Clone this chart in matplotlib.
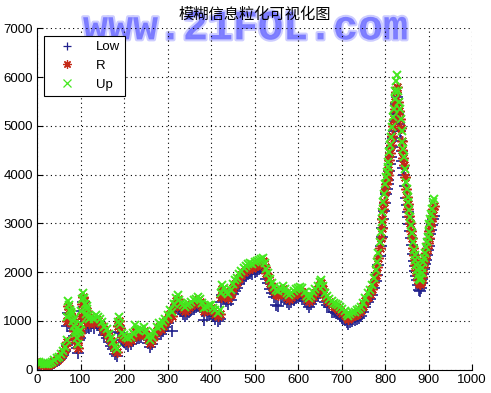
import numpy as np
import matplotlib
matplotlib.use('Agg')
import matplotlib.pyplot as plt
import matplotlib.patheffects as pe

plt.rcParams['font.family'] = ['Liberation Sans', 'DejaVu Sans']

# index of each granule
xs = [0, 5, 10, 15, 20, 25, 30, 35, 40, 45, 50, 55, 60, 65, 68, 70, 72, 74, 76, 78,
      80, 82, 84, 86, 88, 90, 92, 94, 96, 98, 100, 102, 104, 106, 108, 110, 112, 114, 116, 118,
      120, 125, 130, 135, 140, 145, 150, 155, 160, 165, 170, 175, 180, 184, 186, 188, 190, 195, 200, 205,
      210, 215, 220, 225, 230, 235, 240, 245, 250, 255, 260, 265, 270, 275, 280, 285, 290, 295, 300, 305,
      310, 315, 320, 323, 327, 330, 335, 340, 345, 350, 355, 360, 365, 370, 375, 380, 385, 390, 395, 400,
      405, 410, 415, 420, 423, 426, 430, 435, 440, 445, 450, 455, 460, 465, 470, 475, 480, 485, 490, 495,
      500, 505, 510, 515, 520, 524, 527, 530, 535, 540, 545, 550, 555, 560, 565, 570, 575, 580, 585, 590,
      595, 600, 605, 610, 615, 620, 625, 630, 635, 640, 645, 650, 654, 658, 662, 667, 672, 677, 682, 687,
      692, 697, 702, 707, 712, 716, 720, 725, 730, 735, 740, 745, 750, 755, 760, 765, 770, 775, 779, 782,
      785, 788, 790, 792, 794, 796, 798, 800, 802, 804, 806, 808, 810, 812, 814, 816, 818, 820, 822, 824,
      826, 828, 830, 832, 834, 836, 838, 840, 842, 844, 846, 848, 850, 852, 854, 856, 858, 860, 862, 864,
      866, 868, 870, 872, 874, 876, 878, 880, 882, 884, 886, 888, 890, 892, 894, 896, 898, 900, 902, 904,
      906, 908, 910, 912]

r_vals = [140, 135, 120, 105, 95, 100, 115, 140, 170, 205, 240, 290, 350, 430, 560, 1000, 1300, 1250, 1150, 1100,
          1050, 900, 950, 800, 700, 650, 550, 450, 700, 750, 850, 1100, 1350, 1500, 1400, 1250, 1050, 1200, 1150, 1000,
          950, 1000, 950, 1050, 1000, 950, 900, 800, 750, 650, 580, 500, 400, 360, 900, 1000, 850, 680, 650, 600,
          560, 600, 680, 800, 740, 720, 760, 800, 720, 620, 540, 600, 700, 800, 880, 830, 900, 980, 1050, 1150,
          1100, 1280, 1400, 1450, 1350, 1300, 1250, 1200, 1250, 1280, 1320, 1350, 1380, 1420, 1380, 1300, 1200, 1220, 1260, 1260,
          1200, 1150, 1100, 1150, 1500, 1650, 1600, 1520, 1470, 1550, 1680, 1750, 1800, 1880, 1950, 2000, 2050, 2080, 2100, 2080,
          2120, 2150, 2180, 2200, 2230, 2100, 1980, 1900, 1780, 1700, 1620, 1560, 1530, 1580, 1650, 1580, 1500, 1460, 1500, 1540,
          1580, 1600, 1620, 1600, 1520, 1450, 1400, 1450, 1520, 1580, 1650, 1730, 1780, 1650, 1500, 1440, 1390, 1340, 1300, 1280,
          1250, 1210, 1170, 1130, 1080, 1040, 1080, 1110, 1120, 1150, 1180, 1220, 1300, 1400, 1500, 1560, 1650, 1800, 1950, 2100,
          2300, 2500, 2700, 2900, 3100, 3300, 3450, 3650, 3800, 3900, 4000, 4100, 4300, 4450, 4600, 4800, 5000, 5150, 5350, 5500,
          5700, 5800, 5500, 5300, 5150, 4950, 4700, 4500, 4350, 4200, 3950, 3700, 3550, 3400, 3300, 3150, 3000, 2850, 2700, 2500,
          2350, 2250, 2150, 2050, 1950, 1850, 1780, 1750, 1800, 1900, 2000, 2100, 2200, 2300, 2400, 2500, 2600, 2700, 2850, 2950,
          3050, 3150, 3300, 3350]

low_vals = [110, 100, 90, 80, 70, 75, 90, 110, 135, 170, 200, 245, 300, 380, 500, 900, 1160, 1150, 1040, 1000,
            950, 800, 850, 700, 600, 550, 450, 340, 600, 650, 750, 980, 1200, 1380, 1280, 1100, 900, 1080, 1030, 880,
            850, 900, 860, 960, 910, 860, 810, 710, 660, 560, 490, 420, 320, 290, 780, 900, 760, 600, 570, 520,
            480, 520, 600, 700, 660, 640, 680, 720, 640, 540, 460, 520, 620, 720, 800, 740, 800, 880, 950, 1050,
            800, 1180, 1300, 1350, 1250, 1200, 1150, 1100, 1150, 1180, 1220, 1250, 1280, 1320, 1280, 1200, 1020, 1120, 1160, 1160,
            1100, 1050, 1000, 1050, 1380, 1530, 1480, 1400, 1350, 1430, 1550, 1620, 1680, 1760, 1830, 1880, 1930, 1960, 1980, 1960,
            2000, 2030, 2060, 2080, 2100, 1980, 1860, 1780, 1660, 1580, 1500, 1320, 1300, 1470, 1540, 1470, 1390, 1350, 1390, 1430,
            1470, 1490, 1510, 1490, 1410, 1340, 1290, 1340, 1410, 1470, 1540, 1620, 1670, 1540, 1390, 1330, 1280, 1180, 1190, 1170,
            1140, 1100, 1060, 1020, 970, 930, 970, 1000, 1010, 1040, 1070, 1110, 1190, 1290, 1390, 1450, 1530, 1670, 1810, 1950,
            2150, 2340, 2530, 2720, 2900, 3100, 3250, 3420, 3600, 3700, 3800, 3900, 4080, 4220, 4370, 4560, 4750, 4900, 5100, 5250,
            5450, 5600, 5250, 5050, 4900, 4700, 4480, 4280, 4130, 4000, 3760, 3520, 3380, 3230, 3140, 2990, 2850, 2700, 2560, 2370,
            2220, 2130, 2030, 1930, 1830, 1730, 1640, 1620, 1680, 1780, 1870, 1970, 2070, 2160, 2250, 2350, 2450, 2540, 2680, 2780,
            2870, 2970, 3100, 3150]

up_vals = [160, 150, 140, 125, 115, 120, 135, 160, 195, 230, 270, 320, 385, 470, 610, 1080, 1400, 1330, 1230, 1180,
           1150, 1000, 1050, 900, 800, 750, 650, 520, 780, 820, 930, 1200, 1450, 1580, 1480, 1350, 1150, 1300, 1250, 1100,
           1050, 1080, 1030, 1120, 1080, 1030, 980, 880, 830, 730, 660, 570, 470, 420, 980, 1080, 930, 760, 720, 680,
           640, 680, 760, 920, 810, 790, 830, 870, 790, 690, 610, 670, 770, 870, 950, 900, 970, 1050, 1120, 1220,
           1180, 1350, 1480, 1530, 1420, 1370, 1320, 1280, 1320, 1350, 1390, 1420, 1450, 1490, 1450, 1370, 1270, 1290, 1330, 1330,
           1270, 1220, 1170, 1220, 1580, 1730, 1680, 1600, 1550, 1630, 1760, 1830, 1880, 1960, 2030, 2080, 2130, 2160, 2180, 2160,
           2200, 2230, 2260, 2280, 2300, 2180, 2060, 1980, 1860, 1780, 1700, 1640, 1610, 1650, 1720, 1650, 1570, 1530, 1570, 1610,
           1650, 1670, 1690, 1670, 1590, 1520, 1470, 1520, 1590, 1650, 1720, 1800, 1850, 1720, 1570, 1510, 1460, 1410, 1370, 1350,
           1320, 1280, 1240, 1200, 1150, 1110, 1150, 1180, 1190, 1220, 1250, 1290, 1370, 1470, 1570, 1630, 1730, 1880, 2040, 2200,
           2400, 2610, 2820, 3030, 3240, 3440, 3600, 3800, 3950, 4050, 4150, 4260, 4460, 4620, 4780, 4980, 5190, 5350, 5560, 5720,
           5930, 6050, 5720, 5500, 5350, 5150, 4900, 4680, 4520, 4370, 4110, 3850, 3700, 3540, 3440, 3280, 3130, 2970, 2810, 2610,
           2450, 2350, 2250, 2140, 2040, 1940, 1860, 1840, 1890, 1990, 2090, 2200, 2300, 2400, 2510, 2620, 2720, 2830, 2980, 3090,
           3190, 3300, 3450, 3500]

fig = plt.figure(figsize=(4.91, 3.93), dpi=100)
ax = fig.add_axes([0.0754, 0.0593, 0.8859, 0.8682])
ax.patch.set_alpha(0)

ax.plot(xs, low_vals, linestyle='none', marker='+', color='#20208c', markersize=8, markeredgewidth=1.2, label='Low')
ax.plot(xs, r_vals, linestyle='none', marker=(8, 2, 0), color='#c42a18', markersize=7.5, markeredgewidth=1.1, label='R')
ax.plot(xs, up_vals, linestyle='none', marker='x', color='#44e81e', markersize=6, markeredgewidth=1.4, label='Up')

ax.set_xlim(0, 1000)
ax.set_ylim(0, 7000)
ax.set_xticks(np.arange(0, 1001, 100))
ax.set_yticks(np.arange(0, 7001, 1000))
ax.tick_params(direction='in', length=4, labelsize=9.5, pad=3)
ax.grid(True, color='black', linestyle=(0, (1, 3)), linewidth=0.8)
ax.spines['top'].set_visible(False)
ax.spines['right'].set_visible(False)

ax.set_title('模糊信息粒化可视化图', fontsize=11, pad=7,
             family=['Noto Sans CJK SC', 'DejaVu Sans'])

leg = ax.legend(loc='upper left', fontsize=9.5, frameon=True, fancybox=False,
                edgecolor='black', framealpha=1, borderaxespad=0.55,
                handlelength=2.6, handletextpad=0.9, labelspacing=0.5)
leg.get_frame().set_linewidth(0.8)
for h in leg.legend_handles:
    h.set_markersize(6)
    h.set_markeredgewidth(0.9)

# watermark, sits behind the axes contents
fig.text(0.5, 0.928, 'www.21FOL.com', ha='center', va='center', fontsize=30,
         family='Liberation Mono', weight='bold', color='#5858ff', alpha=0.5,
         zorder=-1,
         path_effects=[pe.withStroke(linewidth=3, foreground='#9a9aff')])

fig.savefig('out.png', dpi=100, facecolor='white')
